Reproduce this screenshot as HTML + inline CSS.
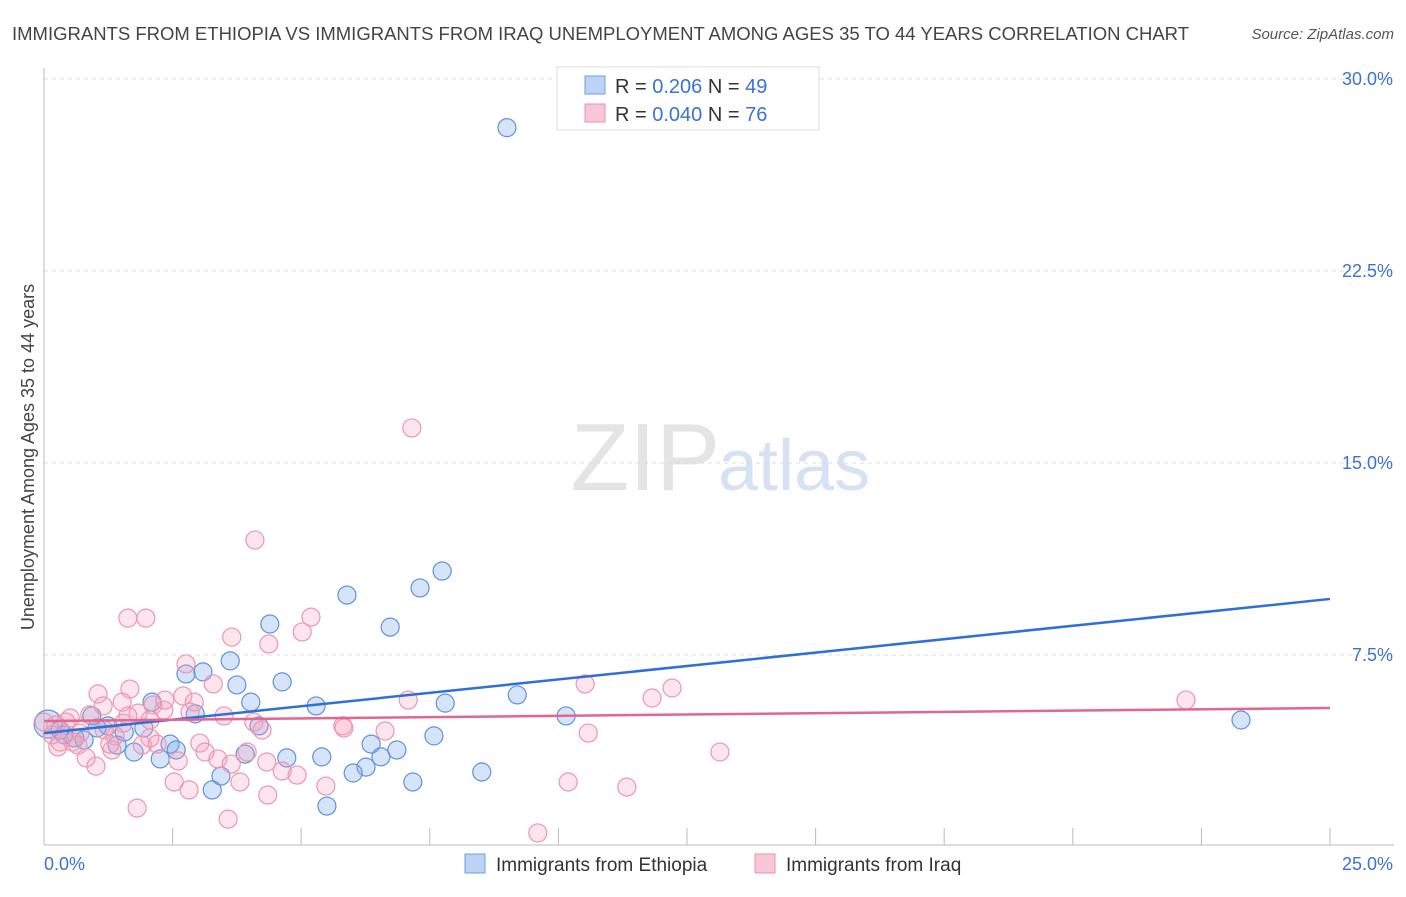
<!DOCTYPE html>
<html><head><meta charset="utf-8"><style>
body{margin:0;background:#fff;font-family:"Liberation Sans",sans-serif;}
svg text{font-family:"Liberation Sans",sans-serif;}
</style></head><body>
<svg width="1406" height="892" xmlns="http://www.w3.org/2000/svg">
<text x="12" y="40" font-size="18.5" fill="#444">IMMIGRANTS FROM ETHIOPIA VS IMMIGRANTS FROM IRAQ UNEMPLOYMENT AMONG AGES 35 TO 44 YEARS CORRELATION CHART</text>
<text x="1394" y="39" font-size="15" fill="#555" font-style="italic" text-anchor="end">Source: ZipAtlas.com</text>
<text x="720" y="490" font-size="96" fill="#e4e4e4" text-anchor="end" font-family="Liberation Serif">ZIP</text>
<text x="718" y="490" font-size="72" fill="#d6e2f4">atlas</text>
<g id="grid"></g>
<g id="axes"></g>
<g id="pts"></g>
<g id="lines"></g>
<text transform="translate(34,457) rotate(-90)" font-size="18" fill="#444" text-anchor="middle">Unemployment Among Ages 35 to 44 years</text>
<g>
<rect x="557" y="67" width="262" height="63" fill="#fff" stroke="#ddd"/>
<rect x="585" y="76" width="20" height="18" fill="#bcd3f5" stroke="#6f9de0"/>
<text x="615" y="93" font-size="20" fill="#333">R = <tspan fill="#3b73d0">0.206</tspan>   N = <tspan fill="#3b73d0">49</tspan></text>
<rect x="585" y="104" width="20" height="18" fill="#f9c6d6" stroke="#e993ad"/>
<text x="615" y="121" font-size="20" fill="#333">R = <tspan fill="#3b73d0">0.040</tspan>   N = <tspan fill="#3b73d0">76</tspan></text>
</g>
<g>
<rect x="465" y="854" width="20" height="19" fill="#bcd3f5" stroke="#6f9de0"/>
<text x="496" y="871" font-size="19" fill="#333">Immigrants from Ethiopia</text>
<rect x="755" y="854" width="20" height="19" fill="#f9c6d6" stroke="#e993ad"/>
<text x="786" y="871" font-size="19" fill="#333">Immigrants from Iraq</text>
</g>
</svg>
<script>
const yTicks=[7.5,15,22.5,30];
const yTickLabels=["7.5%","15.0%","22.5%","30.0%"];
const xTickVals=[2.5,5,7.5,10,12.5,15,17.5,20,22.5,25];
const ethX=[9.0,7.74,7.31,5.89,6.73,4.39,3.62,3.09,2.76,3.75,4.63,2.10,4.02,5.29,7.80,9.20,2.94,10.15,23.27,0.93,1.24,1.56,1.94,4.18,0.08,0.31,0.60,0.78,2.45,1.42,1.75,2.57,2.26,3.91,4.72,5.40,6.36,6.86,7.58,6.55,6.26,6.01,8.51,7.17,3.44,3.27,5.50,1.03,0.39];
const ethY=[28.1,10.78,10.12,9.84,8.59,8.71,7.27,6.84,6.76,6.33,6.45,5.66,5.66,5.51,5.62,5.94,5.20,5.12,4.96,5.12,4.73,4.49,4.65,4.73,4.80,4.57,4.26,4.18,4.02,3.98,3.71,3.79,3.44,3.63,3.48,3.52,4.02,3.79,4.34,3.52,3.12,2.89,2.93,2.54,2.77,2.23,1.60,4.65,4.38];
const iraqX=[7.15,4.10,5.19,1.63,1.98,5.02,3.65,4.37,2.76,3.29,1.67,1.05,2.70,2.92,2.12,1.52,7.08,10.52,12.21,11.82,22.20,1.15,2.33,1.83,0.89,3.50,4.08,1.54,0.51,0.23,5.81,6.63,10.58,2.06,1.38,0.70,0.31,0.56,3.03,2.20,1.91,1.32,0.82,1.01,2.61,3.38,3.95,3.64,4.33,4.63,4.92,13.14,2.53,2.82,3.81,4.35,5.48,10.19,11.33,1.81,3.58,9.60,0.16,0.43,0.66,1.17,1.63,2.35,0.0,0.27,1.28,3.13,2.06,2.84,4.24,5.83];
const iraqY=[16.37,11.99,8.98,8.94,8.94,8.40,8.20,7.93,7.15,6.37,6.17,5.98,5.90,5.66,5.55,5.66,5.74,6.37,6.21,5.82,5.74,5.51,5.35,5.23,5.16,5.12,4.88,4.84,5.04,4.77,4.73,4.53,4.45,4.26,4.34,4.45,4.10,4.10,4.06,4.02,3.98,3.79,3.48,3.16,3.36,3.44,3.71,3.24,3.32,2.97,2.81,3.71,2.54,2.23,2.54,2.03,2.38,2.54,2.34,1.52,1.09,0.55,4.38,4.88,3.98,4.57,5.12,5.74,4.88,3.91,4.02,3.71,4.96,5.27,4.57,4.65];
const ethTrend=[4.45,9.69];
const iraqTrend=[4.92,5.43];
const NS="http://www.w3.org/2000/svg";
const X=v=>44+v/25*1286, Y=v=>847-v/7.5*192;
function mk(t,a,p){const e=document.createElementNS(NS,t);for(const k in a)e.setAttribute(k,a[k]);p.appendChild(e);return e;}
const grid=document.getElementById('grid'),axes=document.getElementById('axes'),pts=document.getElementById('pts'),lines=document.getElementById('lines');
yTicks.forEach((t,i)=>{
 const l=mk('line',{x1:44,x2:1394,y1:Y(t),y2:Y(t),stroke:'#ddd','stroke-dasharray':'4,4'},grid);
 
 
 const tx=mk('text',{x:1393,y:Y(t)+6,'font-size':18,fill:'#3b73d0','text-anchor':'end'},grid);
 tx.textContent=yTickLabels[i];
 
 
});
const ax=mk('line',{x1:44,x2:1394,y1:845,y2:845,stroke:'#bbb'},axes);


const ay=mk('line',{x1:44,x2:44,y1:68,y2:845,stroke:'#bbb'},axes);


xTickVals.forEach(t=>{
 const l=mk('line',{x1:X(t),x2:X(t),y1:828,y2:845,stroke:'#bbb'},axes);
 
 
});
const xl=mk('text',{x:44,y:870,'font-size':18,fill:'#3b73d0'},axes);xl.textContent='0.0%';


const xr=mk('text',{x:1393,y:870,'font-size':18,fill:'#3b73d0','text-anchor':'end'},axes);xr.textContent='25.0%';


ethX.forEach((x,i)=>{
 const c=mk('circle',{cx:X(x),cy:Y(ethY[i]),r:i==24?14:9,fill:'rgba(120,165,235,0.3)',stroke:'#5f92dc','stroke-width':1.2},pts);
 
 
});
iraqX.forEach((x,i)=>{
 const c=mk('circle',{cx:X(x),cy:Y(iraqY[i]),r:9,fill:'rgba(245,160,190,0.28)',stroke:'#ec96b0','stroke-width':1.2},pts);
 
 
});
const bl=mk('line',{x1:X(0),y1:Y(ethTrend[0]),x2:X(25),y2:Y(ethTrend[1]),stroke:'#2f6fd6','stroke-width':2.5},lines);


const pl=mk('line',{x1:X(0),y1:Y(iraqTrend[0]),x2:X(25),y2:Y(iraqTrend[1]),stroke:'#e4658f','stroke-width':2.5},lines);


</script>
</body></html>
